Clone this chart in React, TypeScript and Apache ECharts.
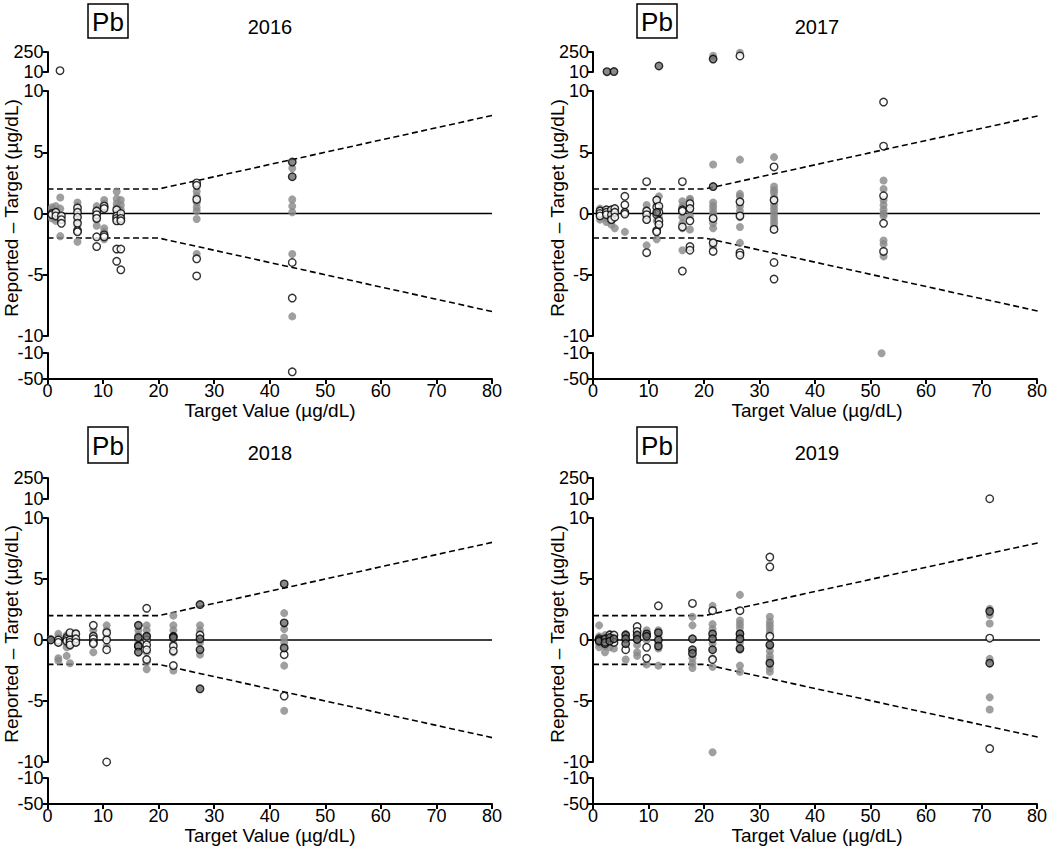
import React, { useEffect, useRef } from "react";
import * as echarts from "echarts";

type Col = [number, number[]];

// ---------- data (target value, list of reported - target) ----------
const grey2016: Col[] = [
  [0.8, [0.5, 0.3, 0.1, -0.2, -0.4]],
  [1.5, [0.6, 0.2, -0.3, -0.6]],
  [2.3, [1.3, 0.4, -0.3, -1.85]],
  [5.4, [0.9, 0.6, 0.2, -0.3, -0.6, -1.0, -2.3]],
  [8.85, [0.6, 0.3, 0.1, -0.3, -0.5, -1.0]],
  [10.2, [1.1, 0.8, 0.5, -1.2, -1.5, -2.1]],
  [12.45, [1.8, 1.2, 0.8, 0.5, 0.2, -0.3, -0.6]],
  [13.2, [1.1, 0.7, 0.3, -0.1, -0.5]],
  [26.85, [2.2, 1.8, 1.4, 0.9, 0.5, 0.2, -0.45, -3.3]],
  [44.05, [3.7, 1.15, 0.6, 0.1, -3.3, -8.4]],
];
const open2016: Col[] = [
  [0.8, [0, -0.1]],
  [1.5, [0.1, -0.2]],
  [2.25, [26]],
  [2.5, [-0.2, -0.5, -0.8]],
  [5.4, [0.45, 0.1, -0.3, -0.8, -1.4, -1.5]],
  [8.85, [0.2, -0.1, -0.4, -1.9, -2.7]],
  [10.2, [0.6, 0.4, -1.75, -1.9]],
  [12.45, [0.3, -0.2, -0.4, -0.6, -2.9, -3.9]],
  [13.2, [0, -0.4, -0.6, -2.9, -4.6]],
  [26.85, [2.5, 2.3, 1.15, -3.7, -5.1]],
  [44.05, [-4.0, -6.9, -39]],
];
const dark2016: Col[] = [[44.05, [4.2, 3.0]]];

const grey2017: Col[] = [
  [1.25, [0.4, 0.3, -0.2, -0.5]],
  [2.4, [0.3, -0.4, -0.7]],
  [3.3, [0.2, -0.6, -0.9]],
  [3.9, [0.4, 0, -1.2]],
  [5.7, [0.1, -1.5]],
  [9.6, [0.7, 0.3, -0.5, -2.6]],
  [11.4, [1.1, 0.8, -0.6, -2.1]],
  [11.8, [1.4, 0.4, -0.3, -0.9]],
  [16.0, [1.0, 0.6, 0.2, -0.3, -0.8, -1.2, -3.0]],
  [17.35, [1.2, 1.1, 0.6, 0.3, -0.2, -1.3, -2.9]],
  [21.5, [205, 4.0, 0.9, 0.6, 0.3, 0, -0.4, -0.8, -1.2, -2.3, -2.7]],
  [26.3, [242, 4.4, 1.6, 1.4, 1.0, 0.6, 0.2, -0.3, -1.1, -2.4]],
  [32.4, [4.6, 2.2, 1.9, 1.7, 1.3, 1.0, 0.7, 0.4, 0.1, -0.2, -0.5, -0.8, -1.1]],
  [52.0, [2.7, 2.0, 1.1, 0.7, 0.3, 0, -0.2, -2.2, -2.5, -3.5, -10.4]],
];
const open2017: Col[] = [
  [1.25, [0.2, 0, -0.2]],
  [2.4, [0.3, 0.1, -0.1]],
  [3.3, [0.3, -0.1, -0.5]],
  [3.9, [0.4, 0.1, -0.3]],
  [5.7, [1.4, 0.7, 0.1, -0.05]],
  [9.6, [2.6, 0.2, -0.1, -0.5, -3.2]],
  [11.4, [1.1, 0.5, -0.1, -1.4, -1.5]],
  [11.8, [0.6, 0.1, -0.6, -0.9]],
  [16.0, [2.6, 0.3, 0.2, -1.1, -4.7]],
  [17.35, [0.8, 0.4, -0.6, -2.7, -3.0]],
  [21.5, [-0.4, -2.4, -3.1]],
  [26.3, [202, 0.95, -0.2, -3.2, -3.4]],
  [32.4, [3.8, 1.1, -1.3, -4.0, -5.35]],
  [52.0, [9.1, 5.5, 1.45, -0.8, -3.1]],
];
const dark2017: Col[] = [
  [2.5, [14]],
  [3.75, [15]],
  [11.4, [0.1]],
  [11.8, [82]],
  [21.5, [165, 2.2]],
];

const grey2018: Col[] = [
  [0.6, [0.1]],
  [1.95, [0.5, 0.2, -0.2, -1.5, -1.7]],
  [3.45, [0.4, -0.3, -0.6, -1.3]],
  [4.05, [0.5, -0.5, -1.9]],
  [5.1, [0.6, -0.2]],
  [8.25, [0.8, 0.4, -1.0]],
  [10.65, [1.2, 0.8, 0.2, -0.5]],
  [16.35, [0.8, 0.4, -0.2, -0.6]],
  [17.85, [1.2, 0.8, 0.4, -1.0, -1.8, -2.4]],
  [22.65, [2.0, 1.2, 0.8, -0.3, -1.0, -2.5]],
  [27.45, [1.2, 0.8, -0.2, -1.2]],
  [42.6, [2.2, 0.9, 0.2, -0.2, -2.1, -5.8]],
];
const open2018: Col[] = [
  [1.95, [0, -0.2]],
  [3.45, [0.2, 0.05, -0.1]],
  [4.05, [0.6, 0, -0.2, -0.4]],
  [5.1, [0.5, 0.1, -0.2]],
  [8.25, [1.2, 0.3, 0.1, -0.2, -0.3]],
  [10.65, [0.6, 0, -0.8, -10]],
  [16.35, [-0.5]],
  [17.85, [2.6, 0, -0.4, -0.8, -1.6]],
  [22.65, [-0.5, -0.9, -2.1]],
  [27.45, [0.4]],
  [42.6, [-1.2, -4.6]],
];
const dark2018: Col[] = [
  [0.6, [0]],
  [16.35, [1.2, 0.2, -0.5, -1.0]],
  [17.85, [0.3]],
  [22.65, [0.3, 0.2]],
  [27.45, [2.9, 0.1, -0.8, -4.0]],
  [42.6, [4.6, 1.4, -0.65]],
];

const grey2019: Col[] = [
  [1.1, [1.2, 0.3, -0.3, -0.6]],
  [2.15, [0.4, -0.5, -1.0]],
  [3.0, [0.5, -0.6]],
  [3.75, [0.3, -0.7]],
  [5.85, [0.5, -1.6]],
  [7.9, [0.6, 0.2, -0.4, -1.0, -1.3]],
  [9.6, [0.8, 0.4, 0, -2.0]],
  [11.7, [0.8, 0.3, -0.2, -0.7, -2.1]],
  [17.8, [1.9, 1.2, -1.5, -1.9, -2.3]],
  [21.4, [2.8, 1.3, 0.9, -0.3, -1.5, -2.2, -9.2]],
  [26.3, [3.7, 1.6, 1.3, 1.0, 0.6, 0.3, -0.2, -0.8, -2.1, -2.6]],
  [31.65, [1.9, 1.5, 1.2, 0.9, 0.6, -0.5, -0.9, -1.3, -1.6, -2.3, -2.6]],
  [71.0, [2.55, 2.05, 1.35, -1.55, -4.7, -5.7]],
];
const open2019: Col[] = [
  [1.1, [0.1]],
  [2.15, [0, -0.3]],
  [3.0, [0.4]],
  [3.75, [0.4, -0.2]],
  [5.85, [-0.8]],
  [7.9, [1.1, 0.7]],
  [9.6, [-0.6, -1.5]],
  [11.7, [2.8]],
  [17.8, [3.0]],
  [21.4, [2.4, -1.6]],
  [26.3, [2.4]],
  [31.65, [6.8, 6.0, 0.3]],
  [71.0, [13, 0.15, -8.9]],
];
const dark2019: Col[] = [
  [1.1, [0, -0.1]],
  [2.15, [0.1, -0.2]],
  [3.0, [0.2, -0.1]],
  [3.75, [0.1]],
  [5.85, [0.4, 0.1, -0.3]],
  [7.9, [0.4, 0.05]],
  [9.6, [0.5, 0.3]],
  [11.7, [0.6, 0, -0.5]],
  [17.8, [0.1, -0.8, -1.1]],
  [21.4, [0.5, 0.1, -0.8]],
  [26.3, [0.5, 0.1, -0.7]],
  [31.65, [-0.4, -1.9]],
  [71.0, [2.35, -1.9]],
];

const years = ["2016", "2017", "2018", "2019"];
const analyte = "Pb";
const xTicks = [0, 10, 20, 30, 40, 50, 60, 70, 80];
const upperTicks = [10, 250];
const mainTicks = [-10, -5, 0, 5, 10];
const lowerTicks = [-50, -10];
const upperLimit: [number, number][] = [[0, 2], [20, 2], [80, 8]];
const lowerLimit: [number, number][] = [[0, -2], [20, -2], [80, -8]];
const zeroLine: [number, number][] = [[0, 0], [80, 0]];
const yTitle = "Reported \u2013 Target (\u00b5g/dL)";
const xTitle = "Target Value (\u00b5g/dL)";

const panelData = [
  { grey: grey2016, open: open2016, dark: dark2016 },
  { grey: grey2017, open: open2017, dark: dark2017 },
  { grey: grey2018, open: open2018, dark: dark2018 },
  { grey: grey2019, open: open2019, dark: dark2019 },
];

// ---------- layout ----------
const FONT = "'Liberation Sans', Arial, Helvetica, sans-serif";
const topRow = { upTop: 52, upH: 20, mainTop: 91, mainH: 245, lowTop: 353, lowH: 26, pbY: 4, pbH: 34, yearY: 27, yLabY: 208, xTitY: 410 };
const botRow = { upTop: 478, upH: 21, mainTop: 518, mainH: 244, lowTop: 778, lowH: 26, pbY: 427, pbH: 36, yearY: 453, yLabY: 634, xTitY: 835 };
const leftCol = { left: 47.5, width: 444.5, pbX: 88, cx: 270, yLabX: 11 };
const rightCol = { left: 593, width: 447, pbX: 637, cx: 817, yLabX: 557 };
const layouts = [
  { ...topRow, ...leftCol },
  { ...topRow, ...rightCol },
  { ...botRow, ...leftCol },
  { ...botRow, ...rightCol },
];

function flatten(cols: Col[]): [number, number][] {
  const out: [number, number][] = [];
  cols.forEach(([x, ys]) => ys.forEach((y) => out.push([x, y])));
  return out;
}

function buildOption() {
  const grid: any[] = [];
  const xAxis: any[] = [];
  const yAxis: any[] = [];
  const series: any[] = [];
  const graphic: any[] = [];

  const labelStyle = { fontSize: 18, color: "#000", fontFamily: FONT };
  const lineStyle = { color: "#000", width: 2 };

  layouts.forEach((L, p) => {
    const segs = [
      { key: "up", top: L.upTop, h: L.upH, min: 10, max: 250, ticks: upperTicks, test: (y: number) => y > 10 },
      { key: "main", top: L.mainTop, h: L.mainH, min: -10, max: 10, ticks: mainTicks, test: (y: number) => y <= 10 && y >= -10 },
      { key: "low", top: L.lowTop, h: L.lowH, min: -50, max: -10, ticks: lowerTicks, test: (y: number) => y < -10 },
    ];
    segs.forEach((s, k) => {
      const gi = p * 3 + k;
      grid.push({ left: L.left, top: s.top, width: L.width, height: s.h, containLabel: false });
      const isLow = s.key === "low";
      xAxis.push({
        gridIndex: gi,
        type: "value",
        min: 0,
        max: 80,
        interval: 10,
        show: isLow,
        axisLine: { show: isLow, onZero: false, lineStyle },
        axisTick: { show: isLow, length: 5, lineStyle, customValues: xTicks },
        axisLabel: { show: isLow, margin: 3, ...labelStyle, customValues: xTicks },
        splitLine: { show: false },
      });
      yAxis.push({
        gridIndex: gi,
        type: "value",
        min: s.min,
        max: s.max,
        axisLine: { show: true, onZero: false, lineStyle },
        axisTick: { show: true, length: 5, lineStyle, customValues: s.ticks },
        axisLabel: { show: true, margin: 4, ...labelStyle, customValues: s.ticks },
        splitLine: { show: false },
      });

      if (s.key === "main") {
        const lineBase = { type: "line", xAxisIndex: gi, yAxisIndex: gi, symbol: "none", silent: true, z: 1 };
        series.push({ ...lineBase, data: zeroLine, lineStyle: { color: "#000", width: 1.6 } });
        series.push({ ...lineBase, data: upperLimit, lineStyle: { color: "#000", width: 1.6, type: [6, 3.5] } });
        series.push({ ...lineBase, data: lowerLimit, lineStyle: { color: "#000", width: 1.6, type: [6, 3.5] } });
      }

      const d = panelData[p];
      const sel = (cols: Col[]) => flatten(cols).filter(([, y]) => s.test(y));
      series.push({
        type: "scatter", xAxisIndex: gi, yAxisIndex: gi, clip: false, z: 2,
        symbol: "circle", symbolSize: 8,
        itemStyle: { color: "#878787", borderWidth: 0 },
        data: sel(d.grey),
      });
      series.push({
        type: "scatter", xAxisIndex: gi, yAxisIndex: gi, clip: false, z: 3,
        symbol: "circle", symbolSize: 7.5,
        itemStyle: { color: "#ffffff", borderColor: "#000", borderWidth: 1.4 },
        data: sel(d.open),
      });
      series.push({
        type: "scatter", xAxisIndex: gi, yAxisIndex: gi, clip: false, z: 4,
        symbol: "circle", symbolSize: 7.5,
        itemStyle: { color: "#6b6b6b", borderColor: "#000", borderWidth: 1.4 },
        data: sel(d.dark),
      });
    });

    const txt = (text: string, x: number, y: number, size: number, rotation = 0) => ({
      type: "text",
      x,
      y,
      rotation,
      silent: true,
      style: {
        text,
        fill: "#000",
        fontSize: size,
        fontFamily: FONT,
        align: "center",
        verticalAlign: "middle",
        textAlign: "center",
        textVerticalAlign: "middle",
      },
    });

    graphic.push({
      type: "rect",
      shape: { x: L.pbX, y: L.pbY, width: 40, height: L.pbH },
      style: { fill: "#fff", stroke: "#000", lineWidth: 1.5 },
      silent: true,
    });
    graphic.push(txt(analyte, L.pbX + 20, L.pbY + L.pbH / 2 + 1, 26));
    graphic.push(txt(years[p], L.cx, L.yearY, 20));
    graphic.push(txt(yTitle, L.yLabX, L.yLabY, 19, Math.PI / 2));
    graphic.push(txt(xTitle, L.cx, L.xTitY, 19));
  });

  return {
    animation: false,
    backgroundColor: "#fff",
    grid,
    xAxis,
    yAxis,
    series,
    graphic: { elements: graphic },
  };
}

export default function App() {
  const ref = useRef<HTMLDivElement>(null);
  useEffect(() => {
    document.body.style.margin = "0";
    if (!ref.current) return;
    const chart = echarts.init(ref.current, undefined, { renderer: "svg" });
    chart.setOption(buildOption() as any);
    return () => chart.dispose();
  }, []);
  return <div ref={ref} style={{ width: 1050, height: 846 }} />;
}
